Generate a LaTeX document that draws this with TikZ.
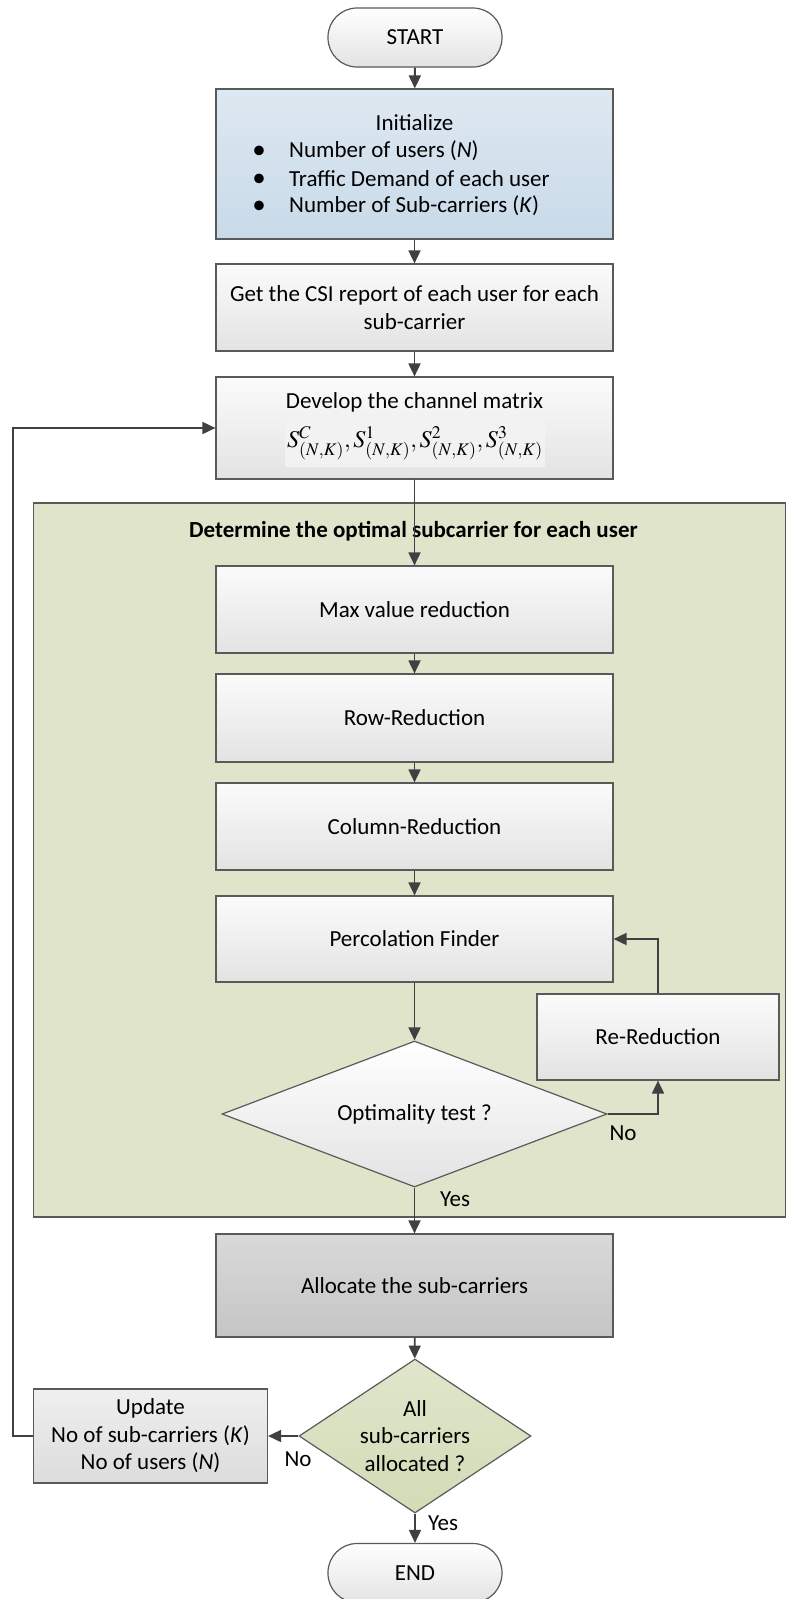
\documentclass[tikz,border=0pt]{standalone}
\usepackage{mathptmx}
\usepackage[no-math]{fontspec}
\setmainfont{Carlito}
\usetikzlibrary{shapes.geometric,arrows.meta}
\definecolor{ln}{HTML}{404040}
\definecolor{bd}{HTML}{5A5A5A}
\definecolor{grn}{HTML}{DFE4CB}
\definecolor{procT}{HTML}{FBFBFB}
\definecolor{procB}{HTML}{E3E3E3}
\definecolor{bluT}{HTML}{DEE8F1}
\definecolor{bluB}{HTML}{C8DAE9}
\definecolor{alT}{HTML}{D9D9D9}
\definecolor{alB}{HTML}{C5C5C5}
\definecolor{dgT}{HTML}{DFE6CC}
\definecolor{dgB}{HTML}{D2DCB6}
\definecolor{upT}{HTML}{EFEFEF}
\definecolor{upB}{HTML}{DCDCDC}
\definecolor{mbg}{HTML}{F2F2F2}
\newcommand\fs{\fontsize{23}{27.5}\selectfont}
\tikzset{
  proc/.style={draw=bd, line width=1.2pt, top color=procT, bottom color=procB, minimum width=397pt, minimum height=87pt, inner sep=0pt, align=center, font=\fs},
  term/.style={draw=bd, line width=1.2pt, top color=white, bottom color=procB, rounded corners=29pt, minimum width=174pt, minimum height=59pt, inner sep=0pt, font=\fs},
  dec/.style={draw=bd, line width=1.2pt, diamond, top color=white, bottom color=procB, inner sep=0pt, align=center, font=\fs},
  txt/.style={inner sep=0pt, font=\fs, text=black},
  bul/.style={inner sep=0pt, anchor=base, font=\fontsize{27}{27}\selectfont, text=black},
  arr/.style={draw=ln, line width=1.8pt, -{Triangle[length=13pt,width=12pt]}},
}
\begin{document}
\begin{tikzpicture}[x=1pt,y=-1pt]
\useasboundingbox (0,0) rectangle (785,1599);
\fill[white] (0,0) rectangle (785,1599);
% group region
\node[draw=bd, line width=1.2pt, fill=grn, minimum width=752pt, minimum height=714pt, inner sep=0pt] (grp) at (409.75,860) {};
\node[txt, font=\fs\bfseries] (ttl) at (413.5,531) {Determine the optimal subcarrier for each user};

\node[term] (start) at (415,37.5) {START};

\node[proc, top color=bluT, bottom color=bluB, minimum height=150pt] (init) at (414.5,164) {};
\node[txt] (initT) at (414.5,123) {Initialize};
\node[bul] (b1) at (259,158.5) {\textbullet};
\node[bul] (b2) at (259,186) {\textbullet};
\node[bul] (b3) at (259,213.5) {\textbullet};
\node[txt, anchor=west] (i1) at (289,151) {Number of users (\textit{N})};
\node[txt, anchor=west] (i2) at (289,178.5) {Traffic Demand of each user};
\node[txt, anchor=west] (i3) at (289,206) {Number of Sub-carriers (\textit{K})};

\node[proc] (csi) at (414.5,307.5) {Get the CSI report of each user for each\\sub-carrier};

\node[proc, minimum height=102pt] (chan) at (414.5,428) {};
\node[txt] (chanT) at (414.5,402) {Develop the channel matrix};
\node[fill=mbg, minimum width=260pt, minimum height=47pt, inner sep=0pt, font=\fontsize{24}{29}\selectfont] (mat) at (415,443.5) {$S^{C}_{(N,K)},S^{1}_{(N,K)},S^{2}_{(N,K)},S^{3}_{(N,K)}$};

\node[proc] (maxv) at (414.5,609.5) {Max value reduction};
\node[proc, minimum height=88pt] (row) at (414.5,718) {Row-Reduction};
\node[proc] (col) at (414.5,826.5) {Column-Reduction};
\node[proc, minimum height=86pt] (perc) at (414.5,939) {Percolation Finder};
\node[dec, minimum width=385pt, minimum height=146pt, shape aspect=2.6] (opt) at (414.5,1114) {Optimality test ?};
\node[proc, minimum width=242pt, minimum height=86pt] (rered) at (658,1037) {Re-Reduction};

\node[proc, top color=alT, bottom color=alB, minimum height=103pt] (alloc) at (414.5,1285.5) {Allocate the sub-carriers};
\node[dec, top color=dgT, bottom color=dgB, minimum width=232pt, minimum height=154pt, shape aspect=1.5] (all) at (415,1436) {All\\sub-carriers\\allocated ?};
\node[proc, top color=upT, bottom color=upB, minimum width=234pt, minimum height=94pt] (upd) at (150.5,1436) {Update\\No of sub-carriers (\textit{K})\\No of users (\textit{N})};
\node[term] (end) at (415,1573) {END};

% connectors
\draw[arr] (start) -- (init);
\draw[arr] (init) -- (csi);
\draw[arr] (csi) -- (chan);
\draw[arr] (chan.south) -- (maxv.north);
\draw[arr] (maxv) -- (row);
\draw[arr] (row) -- (col);
\draw[arr] (col) -- (perc);
\draw[arr] (perc.south) -- (opt.north);
\draw[arr] (opt.east) -| (rered.south);
\draw[arr] (rered.north) |- (perc.east);
\draw[arr] (opt.south) -- (alloc.north);
\draw[arr] (alloc) -- (all);
\draw[arr] (all.west) -- (upd.east);
\draw[arr] (all.south) -- (end.north);
\draw[arr] (upd.west) -- ++(-20,0) |- (chan.west);

\node[txt] (lno1) at (623,1133) {No};
\node[txt] (lyes1) at (455,1199) {Yes};
\node[txt] (lno2) at (298,1459) {No};
\node[txt] (lyes2) at (443,1523) {Yes};
\end{tikzpicture}
\end{document}
